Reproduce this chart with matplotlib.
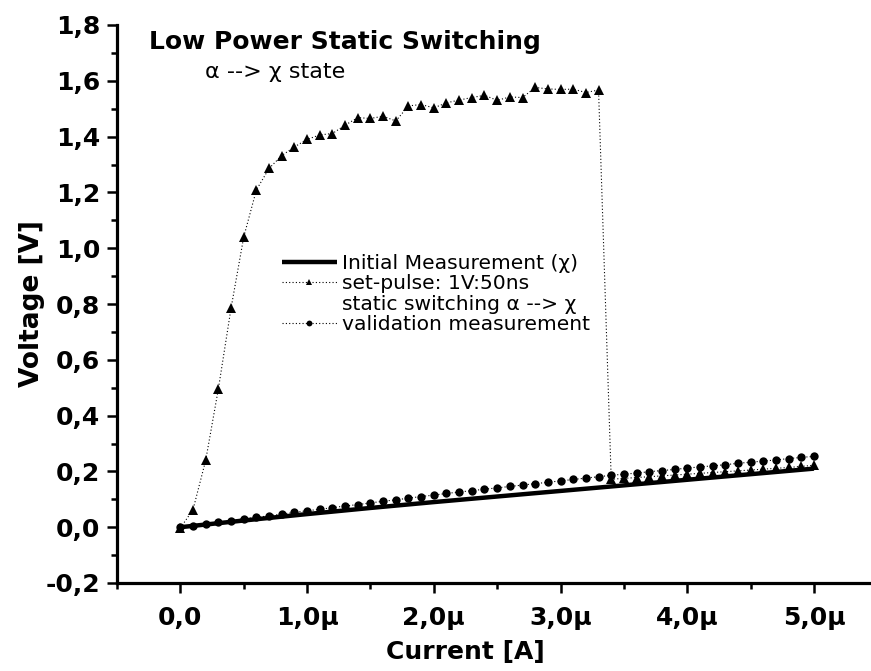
import matplotlib
matplotlib.use("Agg")
import matplotlib.pyplot as plt
from matplotlib.lines import Line2D
from matplotlib.ticker import FixedLocator, FixedFormatter, MultipleLocator

plt.rcParams['font.family'] = ['DejaVu Sans']

# ---- data (current in µA, voltage in V) ----
current = [0.0, 0.1, 0.2, 0.3, 0.4, 0.5, 0.6, 0.7, 0.8, 0.9,
           1.0, 1.1, 1.2, 1.3, 1.4, 1.5, 1.6, 1.7, 1.8, 1.9,
           2.0, 2.1, 2.2, 2.3, 2.4, 2.5, 2.6, 2.7, 2.8, 2.9,
           3.0, 3.1, 3.2, 3.3, 3.4, 3.5, 3.6, 3.7, 3.8, 3.9,
           4.0, 4.1, 4.2, 4.3, 4.4, 4.5, 4.6, 4.7, 4.8, 4.9, 5.0]

setpulse_v = [-0.003, 0.063, 0.240, 0.496, 0.785, 1.040, 1.209, 1.286, 1.332, 1.363,
              1.390, 1.406, 1.411, 1.441, 1.468, 1.465, 1.473, 1.456, 1.510, 1.515,
              1.503, 1.521, 1.531, 1.540, 1.548, 1.530, 1.542, 1.540, 1.576, 1.571,
              1.569, 1.570, 1.558, 1.567, 0.172, 0.175, 0.178, 0.181, 0.184, 0.187,
              0.190, 0.193, 0.196, 0.199, 0.202, 0.205, 0.208, 0.211, 0.214, 0.218, 0.222]

validation_v = [0.000, 0.006, 0.012, 0.018, 0.024, 0.030, 0.035, 0.041, 0.047, 0.053,
                0.059, 0.064, 0.070, 0.076, 0.081, 0.087, 0.093, 0.098, 0.104, 0.110,
                0.115, 0.121, 0.126, 0.131, 0.136, 0.141, 0.146, 0.151, 0.156, 0.161,
                0.166, 0.171, 0.176, 0.181, 0.186, 0.190, 0.194, 0.199, 0.203, 0.207,
                0.212, 0.216, 0.220, 0.224, 0.229, 0.233, 0.237, 0.241, 0.246, 0.250, 0.254]

initial_i = [0.0, 0.5, 1.0, 1.5, 2.0, 2.5, 3.0, 3.5, 4.0, 4.5, 5.0]
initial_v = [0.000, 0.024, 0.047, 0.069, 0.090, 0.110, 0.130, 0.150, 0.170, 0.190, 0.210]

xtick_vals = [0.0, 1.0, 2.0, 3.0, 4.0, 5.0]
xtick_labels = ['0,0', '1,0µ', '2,0µ', '3,0µ', '4,0µ', '5,0µ']
ytick_vals = [-0.2, 0.0, 0.2, 0.4, 0.6, 0.8, 1.0, 1.2, 1.4, 1.6, 1.8]
ytick_labels = ['-0,2', '0,0', '0,2', '0,4', '0,6', '0,8', '1,0', '1,2', '1,4', '1,6', '1,8']

W, H = 871, 671
fig = plt.figure(figsize=(W / 100, H / 100), dpi=100)
ax = fig.add_axes([117 / W, 88 / H, 754 / W, 558 / H])

dot = (0, (1, 2))
l_init, = ax.plot(initial_i, initial_v, color='black', lw=3.2, solid_capstyle='butt', zorder=2)
l_set, = ax.plot(current, setpulse_v, color='black', lw=0.8, ls=dot, marker='^', ms=6.5,
                 markeredgewidth=0, zorder=3)
l_val, = ax.plot(current, validation_v, color='black', lw=0.8, ls=dot, marker='o', ms=6,
                 markeredgewidth=0, zorder=4)

ax.set_xlim(-0.5, 5.45)
ax.set_ylim(-0.2, 1.8)

for s in ['top', 'right']:
    ax.spines[s].set_visible(False)
for s in ['left', 'bottom']:
    ax.spines[s].set_linewidth(2.3)

ax.xaxis.set_major_locator(FixedLocator(xtick_vals))
ax.xaxis.set_major_formatter(FixedFormatter(xtick_labels))
ax.xaxis.set_minor_locator(MultipleLocator(0.5))
ax.yaxis.set_major_locator(FixedLocator(ytick_vals))
ax.yaxis.set_major_formatter(FixedFormatter(ytick_labels))
ax.yaxis.set_minor_locator(MultipleLocator(0.1))

ax.tick_params(which='major', direction='out', length=7.5, width=1.8, labelsize=18)
ax.tick_params(axis='x', which='major', pad=9)
ax.tick_params(axis='y', which='major', pad=4.5)
ax.tick_params(which='minor', direction='out', length=4, width=1.8)
for lab in ax.get_xticklabels() + ax.get_yticklabels():
    lab.set_fontweight('bold')

ax.set_xlabel('Current [A]', fontsize=18, fontweight='bold')
ax.set_ylabel('Voltage [V]', fontsize=19, fontweight='bold')
ax.xaxis.set_label_coords(0.4615, -0.103)
ax.yaxis.set_label_coords(-0.096, 0.5)

fig.text(149 / W, 1 - 42 / H, 'Low Power Static Switching', fontsize=18,
         fontweight='bold', va='center', ha='left')
fig.text(205 / W, 1 - 72 / H, 'α --> χ state', fontsize=16, va='center', ha='left')

blank = Line2D([], [], linestyle='none', marker=None)
handles = [l_init, l_set, blank, l_val]
labels = ['Initial Measurement (χ)', 'set-pulse: 1V:50ns', 'static switching α --> χ',
          'validation measurement']
leg = ax.legend(handles, labels, loc='upper left', bbox_to_anchor=(282 / W, 1 - 254 / H),
                bbox_transform=fig.transFigure, frameon=False, fontsize=14.6,
                handlelength=2.7, handletextpad=0.25, labelspacing=0.07,
                borderpad=0, borderaxespad=0, markerscale=0.7)

fig.savefig('out.png', dpi=100)
